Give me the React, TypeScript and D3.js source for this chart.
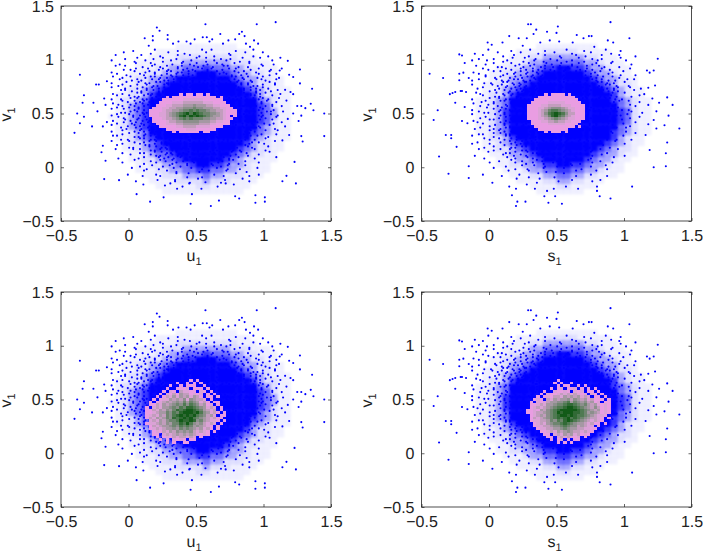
import React, { useEffect, useRef } from 'react';
import * as d3 from 'd3';

const xTicks = [-0.5, 0, 0.5, 1, 1.5];
const yTicks = [-0.5, 0, 0.5, 1, 1.5];
const tickLabels = ['\u22120.5', '0', '0.5', '1', '1.5'];

// the clouds hold far too many dots to read one by one: the solid middle is read
// as a coarse density table (0-9), the loose part as an estimated dot map and
// the far rim as single dots
const denseStep = 0.05;
const denseFirstX = -0.2;
const denseFirstY = 1.15;
const denseLeft = [
  '0000000000011111111100000000',
  '0000000011111111111111000000',
  '0000000111122222222211100000',
  '0000011112223333333222111000',
  '0000011122334445444332211100',
  '0000112223345566655433221100',
  '0001122334566777776543322110',
  '0001122345677888887654322110',
  '0001223456788899988765432111',
  '0011223567889999998876532211',
  '0012234678999999999987643211',
  '0012345789999999999998754211',
  '0012345789999999999998754311',
  '0112345789999999999998754311',
  '0012345789999999999998754211',
  '0012345789999999999987643211',
  '0011234678999999999887543211',
  '0011234567889999998876432111',
  '0001223456788999988765322110',
  '0001123455678889887654322110',
  '0000112344567788776543221100',
  '0000112234456677665432211100',
  '0000011223344566554332111000',
  '0000011122334455443322111000',
  '0000001112223334332221110000',
  '0000000111122223222111100000',
  '0000000011111122111111000000',
  '0000000001111111111110000000',
];
const denseRight = [
  '0000000000011111111100000000',
  '0000000011112222211111000000',
  '0000000111223333332211100000',
  '0000001112334444443321110000',
  '0000011223345566554332111000',
  '0000112233456777765433211000',
  '0000112334567888876543321100',
  '0001122345678999987654322100',
  '0001123456789999998765432110',
  '0001223567899999999876532110',
  '0011234678999999999987543211',
  '0011234789999999999998643211',
  '0011235789999999999998754211',
  '0011235789999999999998754211',
  '0011235789999999999998754211',
  '0011234789999999999998643211',
  '0011234678999999999987543211',
  '0001223567899999999876532110',
  '0001123456789999998765432110',
  '0001122345678999987654322100',
  '0000112334567888876543321100',
  '0000011233456777665433211000',
  '0000011223345566554332110000',
  '0000001112334455443321110000',
  '0000000111223344332211100000',
  '0000000011112233221110000000',
  '0000000000111122111100000000',
  '0000000000011111110000000000',
];

// dot map: '.' empty, 1-4 = dot in that quarter of the cell
const mapStepX = 0.02;
const mapStepY = 0.025;
const mapFirstX = -0.15;
const mapFirstY = 1.1;
const mapLeft = [
  '.........3.......1.......4........2...1........3.....2...........',
  '.....2.........4......1.....3.......1.......4.....2......1.......',
  '..2.........1......3.....2....1..4.....3.....1.......4.....3.....',
  '......3...2.....4...1....3......2...1....4...3...2......1......2.',
  '.1.......4...2......3..1...4..2.....3..1...2....4...3.......2....',
  '....3.....1....2.3.....4...1..3.2...4...1.3...2.....1...4....3...',
  '..2...1.....4...1..3.2...4.1...2.3.1..4...2.1...3..4.....1.......',
  '.....4..3.1...2...4.1.3..2.4.1.3..2.4.1...3.2..1....4..2....3...1',
  '.3.......2...4.1.3...2.1.4.3.2..1.4.2.3.1.4...2.3.1...4....2.....',
  '...1..4....2.3...1.4.2.3.1.4.2.3.1.2.4.3.1.2.4...3.1...2...4..1..',
  '.2...3..1....4.2.1.3.4.2.1.3.2.4.1.3.2.1.4.3.2.1.4.2...3.1.....3.',
  '....1...4.2.3...1.2.4.3.1.2.4.13.2.4.1.32.1.4.2.3.1.4...2.3...1..',
  '.3....2....1.4.3.2.1.43.1.2.4.31.2.34.1.23.4.1.2.3.4.1.....2.4...',
  '...4.1..3.2...1.4.3.2.1.42.3.14.2.31.42.3.1.24.3.1.2.4.3.1...2...',
  '.1....3...4.2.3.1.4.2.31.4.23.1.42.31.4.21.3.42.1.3.2.4..1.3.....',
  '....2.1.4...3.1.2.4.31.2.43.12.41.32.14.3.21.4.2.31.2.4.1...3.2..',
  '.4...3....2.1.4.3.2.1.42.31.43.21.34.12.43.1.24.3.1.4.2.3.1....4.',
  '...1...2.4.3.1.2.4.13.2.41.32.14.23.41.23.14.2.31.4.2.1.3...2....',
  '.3..4...1.2.4.3.1.42.3.14.23.41.32.14.23.41.2.34.1.3.2.4.1.3...1.',
  '.....1.3.2.4.1.3.2.41.3.24.13.42.13.24.31.42.3.14.2.3.1.4.2...3..',
  '.2.4....3.1.2.4.13.2.41.32.14.23.41.32.14.23.41.2.4.1.3.2...4....',
  '...3.1.4.2.3.1.42.3.14.23.41.32.14.23.41.32.14.3.21.4.2.3.1.2...1',
  '.1...2...4.1.3.2.41.3.24.13.42.13.24.13.42.13.2.41.3.2.4.1...3...',
  '....4.3.1.2.4.3.12.4.31.42.13.24.13.42.13.24.31.4.2.3.1.4.2.1...2',
  '.3.1...2.3.4.1.2.43.1.24.13.42.31.24.13.42.31.2.4.13.2.4.3..1.4..',
  '...2.4...1.3.2.41.3.24.13.42.13.24.31.42.13.24.3.12.4.1.2.3...1..',
  '.4....1.3.2.4.13.2.41.32.14.23.41.32.14.23.41.3.2.4.1.3.1...2....',
  '...3.2..4.1.3.2.4.13.2.41.32.14.23.41.32.14.2.31.4.2.3.1.4...3..1',
  '.1.....3.2.4.1.3.2.4.13.24.13.42.13.24.13.4.2.31.4.1.2.4...2.....',
  '....2.4...1.3.2.4.13.2.41.32.14.23.41.32.14.3.2.4.1.3.2.1....4...',
  '.3...1...4.2.3.1.4.2.31.4.23.14.32.41.23.14.2.3.1.4.2.3...1...2..',
  '.....3.2...1.4.2.3.14.2.31.42.13.24.31.4.23.1.4.2.3.1...4.....3..',
  '.2.1.....4.3.1.2.4.3.14.2.31.42.13.4.21.3.4.2.1.3.4.2..1...3.....',
  '....4..3...2.1.4.3.2.14.3.21.43.12.4.31.2.4.3.1.2.4...3...1......',
  '.1.....2.4...3.1.2.4.3.1.42.3.14.2.31.4.2.3.14.2.1...3.4.....2...',
  '...3.1.....2.4.3.1.2.4.31.2.4.13.2.4.1.32.4.1.3.2.4.1....2.......',
  '.......4.3.....1.2.4.3.1.2.43.1.24.3.1.4.2.3.1.4...2.3.....1.....',
  '..2......1.2...4.3.1.2.4.3.1.2.4.31.2.4.3.1.2.3.4.....1...3......',
  '.....3.....4.3...1.2.4.3.1.4.2.3.1.4.2.3.1.4.2...1.3.......2.....',
  '........1......2.4.3.1.2.4.3.1.2.4.3.1.2.4...3.1...4...2.........',
  '...4.......3.1....2.4.1.3.2.4.1.3.2.4.1.3.2.4...1.....3.......1..',
  '.........2.....4...1.3.2...4.1.3.2..4.1...3.2.1...4..............',
  '.....1.......3...2.....4.1...3.2.4..1.3.2...4...3......2.........',
  '...........4....1...3.2...4..1.....3..2..4..1.....2..............',
  '........2.....3...4.....1.....2...4.....1...3...4......1.........',
  '.............1.......2...3.......4...1.....2.......3.............',
  '.......3.........4.......1...2.........3.......1.......4.........',
  '............2......1.........3....4.......2.........1............',
  '..................3.....4........1.........3.....2...............',
  '..........1.............2.....3..........4..........1............',
];
const mapRight = [
  '.......1.......4......2.....3.......1.....4.......2.....3........',
  '..3.......2........1.....4.....2......3......1......4............',
  '.....1......4...2.....3.....1....4.....2...3.....1.....2.....4...',
  '...4.....3......1...2...4.....3...1.....2....4...3......1........',
  '.1....2.....4.1.....3...1..4....2...3.1...4....2.....3....1......',
  '......3..1.....2..4...1.3...2.4...1...3.2....4.1....2.......3....',
  '..2.......4.3....1..3.2...4.1..3.2..4.1.3..2....1.3....4.........',
  '.....1.3.....2.4...1.3.2.4..1.3..2.4.1...3.2.4...1..3......2.....',
  '.4.......1.2.....3.1.4.2.3.1.4.2.3.1.4.2.3.1..4.2....3...1.......',
  '...2..3.....4.1.2..3.1.4.2.3.1.4.2.3.1.4.2.3.1.4...2....3....4...',
  '......1..4.2...3.1.4.2.13.2.4.1.3.24.1.3.2.4.1.3.2...1.4.........',
  '.3.2......1.3.4.2.1.3.4.2.31.4.2.3.14.2.31.4.2.3.1.4..3...2..1...',
  '.....4..3...2.1.3.4.21.3.42.1.34.2.13.4.21.3.4.2.1.3.4...2.......',
  '.1......2.4.1.3.2.41.3.24.1.32.41.3.24.13.2.4.1.3.2.1.4....3.....',
  '...3.1.....3.2.4.1.32.4.13.24.13.42.13.24.1.3.42.1.3.4.1...2...4.',
  '.......4.2...1.3.2.41.3.24.13.42.13.24.13.42.1.3.2.4.2.3.....1...',
  '..2.3.....1.4.2.3.14.2.31.42.13.24.31.42.13.4.2.31.4.1...2.......',
  '.....1...4.3.1.2.43.1.24.13.42.31.24.13.42.31.2.4.3.2.4.....3..1.',
  '.3.....2...1.4.3.2.14.3.21.43.12.43.21.34.12.4.31.2.1.3.4........',
  '....4.1..3.2.1.4.3.12.4.31.42.13.24.31.42.13.2.4.3.1.4.2...1...3.',
  '.2.....3.1...4.2.31.4.23.14.32.41.23.14.32.41.3.2.4.1.3....4.....',
  '....1.4...2.3.1.4.2.31.42.13.24.13.42.31.24.13.2.4.2.1.3.....2...',
  '.3.......1.4.2.3.14.2.31.42.13.24.31.42.13.24.1.3.4.2.1.4..3.....',
  '...2.4.3...1.3.2.41.3.24.13.42.13.24.13.42.13.2.4.1.3.2.....1...3',
  '.1.......2.4.1.3.2.41.32.14.23.41.32.14.23.41.3.2.4.1.4.3.2......',
  '....3.1....3.2.4.13.2.41.32.14.23.41.32.14.2.3.1.4.2.3.....4...1.',
  '.4.....2.1...4.2.3.14.2.31.42.13.24.31.42.1.3.2.4.1.3.1.2........',
  '...1.3.....2.3.1.4.2.31.42.13.24.13.42.31.2.4.13.2.4.....3...2...',
  '.......4.2...1.3.2.41.3.24.13.42.13.24.13.4.2.31.4.3.1.....4.....',
  '..3.1....3.4.2.1.3.42.1.34.21.43.12.34.21.3.4.1.2.3...2...1......',
  '.......2...1.3.4.2.13.4.21.34.12.43.21.34.1.2.4.3.1.4.....3......',
  '...4.3...1.2.4.3.1.24.3.12.43.21.34.12.4.3.1.2.4...3.1.......2...',
  '.1.......3...2.1.4.3.2.14.3.21.43.12.3.4.2.1.3.2.4.......1.......',
  '.....2.4...1.3.2.4.1.32.4.13.24.1.3.42.1.3.4.2.1...3..4.....3....',
  '...3.......4...1.3.2.4.1.3.24.13.2.41.3.2.4.1.3.2.....1..........',
  '.1.....2.....3.2.4.1.3.2.41.3.2.4.13.2.4.1.3.2...4.......2.......',
  '.....4...1.....4.3.2.1.4.3.2.1.43.2.1.4.3.2.4.1.....3............',
  '...2.....3.2...1...4.3.2.1.4.3.2.1.4.3.2.1.3.4..2......1.........',
  '.......1.....4.3.1...2.4.3.1.2.4.3.1.2.4.3...1.....3.............',
  '..3.........2...4..1.3...2.4.1.3.2.4.1.3...2.4...1.......4.......',
  '.....4........1..3...2.4...1.3.2.4.13..2.4...3.......2...........',
  '...........3...2...4.....1.3..2.4.1.3.2.....1...4................',
  '.......2.........1...3.2...4...1.3.2.4...3...2.......1...........',
  '.............4.....2....1...3...4..2..1......3....2..............',
  '.........1.......3...4.....2.......1.....4.........3.............',
  '..............2.......1.....4...3......2.......1.................',
  '.....3............4......2.........1.........3...................',
  '............1.........3........4.......2...........1.............',
  '.................2........1...........3.........4................',
  '........4................3.......1...........2...................',
];

const rimLeft: [number, number][] = [
  [-0.36, 0.86], [-0.33, 0.67], [-0.34, 0.6], [-0.4, 0.32], [-0.38, 0.5], [-0.33, 0.47], [-0.36, 0.41], [-0.27, 0.38],
  [-0.24, 0.77], [-0.22, 0.77], [-0.26, 0.6], [-0.23, 0.52], [0.21, 1.3], [0.23, 1.27], [0.57, 1.33], [1.09, 1.35],
  [0.95, 1.33], [1.45, 0.5], [1.45, 0.29], [1.36, 0.73], [1.27, 0.91], [1.18, 0.99], [0.61, -0.36], [0.46, -0.34],
  [0.16, -0.32], [0.06, -0.25], [-0.18, -0.11], [-0.07, -0.12], [1.01, -0.28], [1.01, -0.32], [0.94, -0.33], [0.94, -0.26],
  [0.82, -0.29], [0.79, -0.27], [0.67, -0.31], [0.26, -0.28], [1.24, -0.15], [1.23, 0.05], [1.17, -0.08], [1.14, -0.13],
  [1.28, 0.29], [1.29, 0.24], [0.12, 1.2], [0.18, 1.18], [0.18, 1.22], [0.15, 1.13], [0.29, 1.23], [0.29, 1.19],
  [0.33, 1.15], [0.37, 1.17], [0.43, 1.17], [0.46, 1.15], [0.49, 1.19], [0.55, 1.21], [0.58, 1.21], [0.6, 1.17],
  [0.62, 1.19], [0.68, 1.24], [0.7, 1.15], [0.74, 1.18], [0.79, 1.19], [0.82, 1.24], [0.84, 1.26], [0.86, 1.22],
  [0.87, 1.15], [0.9, 1.12], [0.93, 1.18], [0.96, 1.15], [1.12, 0.9], [1.19, 0.86], [1.22, 0.84], [1.27, 0.78],
  [1.16, 0.72], [1.2, 0.7], [1.22, 0.68], [1.17, 0.62], [1.25, 0.57], [1.28, 0.57], [1.31, 0.55], [1.35, 0.59],
  [1.37, 0.53], [1.28, 0.48], [1.26, 0.43], [1.22, 0.5], [1.18, 0.45], [1.16, 0.38], [1.19, 0.3], [1.14, 0.25],
  [-0.17, 0.06], [-0.2, 0.14], [-0.19, 0.2], [-0.16, 0.42], [-0.19, 0.38], [-0.17, 0.58], [-0.18, 0.64], [-0.16, 0.8],
  [0.36, -0.2], [0.31, -0.15], [0.27, -0.17], [0.4, -0.18], [0.45, -0.15], [0.47, -0.25], [0.54, -0.2], [0.57, -0.14],
  [0.66, -0.18], [0.72, -0.15], [0.11, -0.16], [0.78, -0.16],
];

const rimRight: [number, number][] = [
  [-0.44, 0.87], [-0.34, 0.83], [-0.41, 0.44], [-0.38, 0.53], [-0.32, 0.3], [-0.28, 0.3], [-0.28, 0.27], [-0.24, 0.19],
  [-0.37, 0.1], [-0.3, -0.06], [-0.15, -0.1], [-0.15, 0.01], [0.2, -0.36], [0.21, -0.32], [0.27, -0.32],
  [0.41, -0.27], [0.44, -0.33], [0.54, -0.34], [0.49, -0.27], [0.82, -0.27], [0.9, -0.29], [1.06, -0.18], [1.22, 0.0],
  [1.31, 0.01], [1.31, 0.13], [1.32, 0.23], [1.41, 0.36], [1.3, 0.39], [1.33, 0.48], [1.36, 0.58], [1.32, 0.65],
  [1.25, 1.01], [1.22, 0.9], [1.17, 0.9], [1.19, 0.88], [0.9, 1.35], [1.04, 1.2], [0.29, 1.33], [0.31, 1.33],
  [0.51, 1.31], [0.35, 1.28], [0.43, 1.26], [0.5, 1.25], [0.33, 1.24], [0.15, 1.22], [0.28, 1.2], [0.22, 1.2],
  [0.65, 1.23], [0.74, 1.22], [0.76, 1.22], [0.7, 1.2], [0.88, 1.18], [0.92, 1.16], [-0.01, 1.16], [0.02, 1.14],
  [0.1, 1.16], [-0.22, 1.05], [-0.2, 1.04], [-0.18, 0.97], [-0.22, 0.87], [-0.19, 0.88], [-0.22, 0.81], [-0.15, 0.83],
  [-0.29, 0.68], [-0.27, 0.69], [-0.25, 0.7], [-0.21, 0.71], [-0.2, 0.71], [-0.17, 0.7], [-0.25, 0.6], [-0.18, 0.56],
  [-0.2, 0.43], [-0.16, 0.41], [0.38, 1.16], [0.45, 1.18], [0.52, 1.17], [0.62, 1.16], [0.25, 1.13], [0.78, 1.12],
  [1.18, 0.74], [1.23, 0.76], [1.15, 0.68], [1.21, 0.64], [1.26, 0.6], [1.18, 0.58], [1.24, 0.52], [1.22, 0.44],
  [1.18, 0.4], [1.24, 0.36], [1.16, 0.3], [1.19, 0.16], [0.8, -0.18], [0.8, -0.22], [0.66, -0.2], [0.57, -0.18],
  [0.48, -0.2], [0.43, -0.22], [0.34, -0.2], [0.2, -0.2], [0.17, -0.26], [0.15, -0.18], [0.28, -0.16],
];

// pink selection: 1 = pink, 9 = darkest green, 0 = nothing drawn
const selStep = 0.025;
const selTopLeft = [
  '00000000010110110100000000',
  '00000101111111111111010000',
  '00001111112222221111110000',
  '00011112223333332221111000',
  '00111223334445444332211100',
  '01112233445556554443322110',
  '11112334456676766544332111',
  '11122345678979876655432111',
  '11122345689798987654432101',
  '01112334567676665544332110',
  '01111233445555544433221100',
  '00111222334444433322111100',
  '00011111223333222211110000',
  '00000111111222111111000000',
  '00000001011111101100000000',
];
const selTopRight = [
  '00000101111010000',
  '00011111111111000',
  '00111111111111100',
  '01111122222111110',
  '11112233332221111',
  '11122345554322111',
  '11123467765432111',
  '11123578987533111',
  '11123468976432111',
  '11122345654322111',
  '01112233433221110',
  '01111122222111100',
  '00111111111111010',
  '00011111111100000',
  '00000101110100000',
];
const selBottomLeft = [
  '0000000000000010100000000',
  '0000000000100101010000000',
  '0000000010010111001000000',
  '0000000100111201110100000',
  '0000001021032211021010000',
  '0000010213143312120101000',
  '0000101324243424310110100',
  '0001012243435254332010000',
  '0010123434546465423101100',
  '0011324345657576534120100',
  '0102324456576887654232010',
  '0113243546878998764323010',
  '0112344657689998975423101',
  '0123243657898989765342011',
  '0132434658789897654323110',
  '0023243566798898564322101',
  '0122343546687975453232010',
  '0013234456576764543210100',
  '0012323445465654342310100',
  '0001213243545453232101000',
  '0001102323434343212100000',
  '0000101213233232010000000',
  '0000010102121011000000000',
  '0000000101001100000000000',
];
const selBottomRight = [
  '0000000001000000000000000',
  '0000000010100100000000000',
  '0000000001011001010000000',
  '0000000101201120101010000',
  '0000010021121021201101000',
  '0000102112323232120210100',
  '0001012133243434232011010',
  '0012103243445354342311101',
  '0102123445567465453412011',
  '0112324456678876564342121',
  '0123234567789987654353121',
  '1121435678999998765434121',
  '1123345679899988764543121',
  '0123435678998987765432210',
  '0132345678789787654332101',
  '0122334657689876543232100',
  '0012324566787654432311010',
  '0012233455676553432201000',
  '0001223344565443322110000',
  '0000112324345433232100000',
  '0000011023243423121000000',
  '0000001102323212010000000',
  '0000000101201011000000000',
  '0000000001010100000000000',
];

const panels = [
  { name: 'u', left: 61, top: 6, dense: denseLeft, map: mapLeft, rim: rimLeft, sel: selTopLeft, selX: 0.15, selY: 0.69 },
  { name: 's', left: 421.5, top: 6, dense: denseRight, map: mapRight, rim: rimRight, sel: selTopRight, selX: 0.285, selY: 0.69 },
  { name: 'u', left: 61, top: 292, dense: denseLeft, map: mapLeft, rim: rimLeft, sel: selBottomLeft, selX: 0.1, selY: 0.69 },
  { name: 's', left: 421.5, top: 292, dense: denseRight, map: mapRight, rim: rimRight, sel: selBottomRight, selX: 0.275, selY: 0.69 },
];

const plotWidth = 270;
const plotHeight = 215;
const font = '"Liberation Sans", Arial, sans-serif';
const quarterX = [0, 0.25, 0.75, 0.25, 0.75];
const quarterY = [0, 0.25, 0.25, 0.75, 0.75];

const selColor = d3.scaleLinear<string>()
  .domain([1, 2, 3, 4, 5, 7, 9])
  .range(['#e99de2', '#dba2d6', '#c29dbd', '#a598a3', '#8c8f8c', '#4f7a52', '#125a18']);

const denseOpacity = d3.scaleLinear().domain([0, 2, 4, 6]).range([0, 0.12, 0.55, 1]).clamp(true);

export default function App() {
  const chartRef = useRef<SVGSVGElement | null>(null);

  useEffect(() => {
    if (!chartRef.current) return;
    const root = d3.select(chartRef.current);
    root.selectAll('*').remove();

    root.append('defs').append('filter')
      .attr('id', 'soft')
      .append('feGaussianBlur')
      .attr('stdDeviation', 1.2);

    panels.forEach(p => {
      const x = d3.scaleLinear().domain([-0.5, 1.5]).range([0, plotWidth]);
      const y = d3.scaleLinear().domain([-0.5, 1.5]).range([plotHeight, 0]);
      const g = root.append('g').attr('transform', `translate(${p.left},${p.top})`);

      const denseCells = p.dense.flatMap((row, j) =>
        row.split('').map((c, i) => ({ i, j, d: +c })).filter(c => c.d > 0));
      g.append('g')
        .attr('filter', 'url(#soft)')
        .selectAll('rect')
        .data(denseCells)
        .enter().append('rect')
        .attr('x', d => x(denseFirstX + d.i * denseStep))
        .attr('y', d => y(denseFirstY - d.j * denseStep))
        .attr('width', x(denseStep) - x(0) + 0.4)
        .attr('height', y(0) - y(denseStep) + 0.4)
        .attr('fill', '#0000ff')
        .attr('fill-opacity', d => denseOpacity(d.d));

      const mapDots: [number, number][] = p.map.flatMap((row, j) =>
        row.split('').flatMap((c, i) => c === '.' ? [] : [[
          mapFirstX + (i + quarterX[+c]) * mapStepX,
          mapFirstY - (j + quarterY[+c]) * mapStepY,
        ] as [number, number]]));
      g.append('g')
        .selectAll('circle')
        .data([...mapDots, ...p.rim])
        .enter().append('circle')
        .attr('cx', d => x(d[0]))
        .attr('cy', d => y(d[1]))
        .attr('r', 1.05)
        .attr('fill', '#0000ff');

      const selCells = p.sel.flatMap((row, j) =>
        row.split('').map((c, i) => ({ i, j, d: +c })).filter(c => c.d > 0));
      g.append('g')
        .attr('shape-rendering', 'crispEdges')
        .selectAll('rect')
        .data(selCells)
        .enter().append('rect')
        .attr('x', d => x(p.selX + d.i * selStep))
        .attr('y', d => y(p.selY - d.j * selStep))
        .attr('width', x(selStep) - x(0))
        .attr('height', y(0) - y(selStep))
        .attr('fill', d => selColor(d.d));

      const fmt = (d: d3.NumberValue) => tickLabels[xTicks.indexOf(+d)];
      const none = () => '';
      const bottom = g.append('g').attr('transform', `translate(0,${plotHeight})`)
        .call(d3.axisBottom(x).tickValues(xTicks).tickSize(-3).tickPadding(9).tickFormat(fmt));
      const left = g.append('g')
        .call(d3.axisLeft(y).tickValues(yTicks).tickSize(-3).tickPadding(7).tickFormat(fmt));
      g.append('g').call(d3.axisTop(x).tickValues(xTicks).tickSize(-3).tickFormat(none));
      g.append('g').attr('transform', `translate(${plotWidth},0)`)
        .call(d3.axisRight(y).tickValues(yTicks).tickSize(-3).tickFormat(none));
      g.selectAll('.domain').remove();
      g.selectAll('.tick line').attr('stroke', '#222').attr('stroke-width', 0.7);
      [bottom, left].forEach(a => a.selectAll('text')
        .attr('font-family', font).attr('font-size', 16).attr('fill', '#222')
        .attr('text-rendering', 'geometricPrecision'));

      g.append('rect')
        .attr('width', plotWidth)
        .attr('height', plotHeight)
        .attr('fill', 'none')
        .attr('stroke', '#222')
        .attr('stroke-width', 0.8);

      const xLabel = g.append('text')
        .attr('x', plotWidth / 2 - 2)
        .attr('y', plotHeight + 39.5)
        .attr('text-anchor', 'middle')
        .attr('text-rendering', 'geometricPrecision')
        .attr('font-family', font).attr('font-size', 16).attr('fill', '#222');
      xLabel.append('tspan').text(p.name);
      xLabel.append('tspan').attr('dy', 4).attr('font-size', 11).text('1');

      const yLabel = g.append('text')
        .attr('transform', `translate(-50,${plotHeight / 2 + 1}) rotate(-90)`)
        .attr('text-anchor', 'middle')
        .attr('text-rendering', 'geometricPrecision')
        .attr('font-family', font).attr('font-size', 16).attr('fill', '#222');
      yLabel.append('tspan').text('v');
      yLabel.append('tspan').attr('dy', 4).attr('font-size', 11).text('1');
    });
  }, []);

  return <svg ref={chartRef} width={703} height={554} style={{ position: 'absolute', left: 0, top: 0, background: '#fff' }}></svg>;
}
